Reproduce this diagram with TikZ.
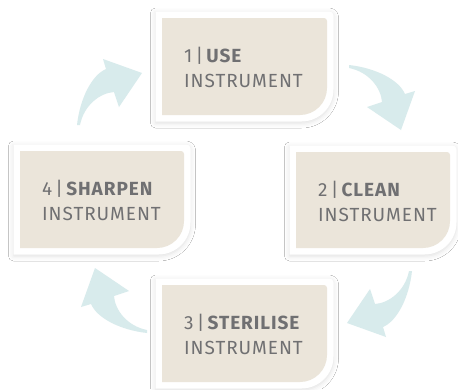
\documentclass[tikz,border=0pt]{standalone}
\usepackage{fontspec}
\newfontfamily\stepfont{Fira Sans}[LetterSpace=5]
\usetikzlibrary{shadows.blur}
\definecolor{stepbeige}{RGB}{235,229,218}
\definecolor{stepgrey}{RGB}{112,112,114}
\definecolor{arrowblue}{RGB}{216,235,236}
\tikzset{%
	boxframe/.style = { fill=white, blur shadow={shadow xshift=0pt, shadow yshift=-1.5pt, shadow blur radius=5pt, shadow opacity=13} },
	boxfill/.style = { fill=stepbeige },
	steptext/.style = { anchor=west, align=left, inner sep=0pt, text=stepgrey, font=\stepfont\fontsize{19}{25}\selectfont },
	cyclearrow/.pic = { \fill[arrowblue] (-65,52) .. controls (-62,25) and (-50,2) .. (-36,-4) -- (-39,-14) -- (0,0) -- (-23,34) -- (-28,19) .. controls (-42,20) and (-58,32) .. (-62,52) -- cycle; }
}
% #1 name, #2 left, #3 top, #4 width, #5 height, #6 text
\newcommand\stepbox[6]{%
	\fill[boxframe] (#2-6.5,#3-6.5) [rounded corners=4pt] -- (#2+#4+6.5,#3-6.5) [rounded corners=32pt] -- (#2+#4+6.5,#3+#5+6.5) [sharp corners] -- (#2-6.5,#3+#5+6.5) -- cycle;
	\fill[boxfill] (#2,#3) [rounded corners=3pt] -- (#2+#4,#3) [rounded corners=27pt] -- (#2+#4,#3+#5) [sharp corners] -- (#2,#3+#5) -- cycle;
	\node[steptext] (#1) at (#2+22,#3+#5/2+1) {#6};
}
\begin{document}
\begin{tikzpicture}[x=1pt, y=-1pt]
	\fill[white] (0,0) rectangle (458,389);
	\useasboundingbox (0,0) rectangle (458,389);
	% arrows between the steps
	\pic at (142,73) {cyclearrow};
	\pic[rotate=-90] at (401,130) {cyclearrow};
	\pic[rotate=180] at (347,323) {cyclearrow};
	\pic[rotate=90] at (95,268) {cyclearrow};
	% steps
	\stepbox{use}{162}{18}{165}{97}{1\,|\,\textbf{USE}\\INSTRUMENT}
	\stepbox{clean}{296}{152}{154}{96}{2\,|\,\textbf{CLEAN}\\INSTRUMENT}
	\stepbox{sterilise}{162}{285}{165}{97}{3\,|\,\textbf{STERILISE}\\INSTRUMENT}
	\stepbox{sharpen}{20}{151}{164}{97}{4\,|\,\textbf{SHARPEN}\\INSTRUMENT}
\end{tikzpicture}
\end{document}
